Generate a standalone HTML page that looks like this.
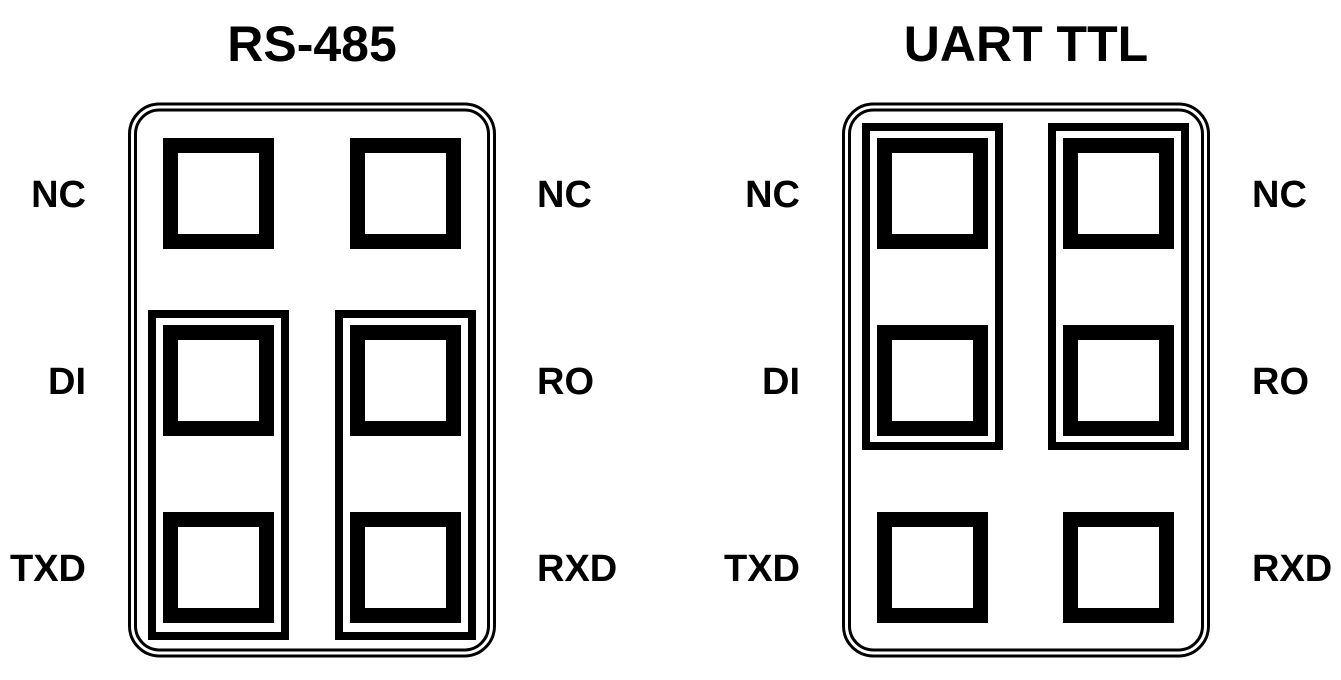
<!DOCTYPE html>
<html><head><style>
html,body{margin:0;padding:0;background:#fff;}
svg{display:block;}
text{font-family:"Liberation Sans",Arial,sans-serif;font-weight:bold;fill:#000;}
</style></head><body>
<svg width="1341" height="680" viewBox="0 0 1341 680" xmlns="http://www.w3.org/2000/svg">
<g fill="none" stroke="#000">
  <rect x="129.5" y="104" width="365" height="552" rx="30" stroke-width="3"/>
  <rect x="135.5" y="110" width="353" height="540" rx="24" stroke-width="3"/>
  <g stroke-width="15">
    <rect x="170.5" y="145.5" width="96" height="96"/>
    <rect x="357.5" y="145.5" width="96" height="96"/>
    <rect x="170.5" y="332.5" width="96" height="96"/>
    <rect x="357.5" y="332.5" width="96" height="96"/>
    <rect x="170.5" y="519.5" width="96" height="96"/>
    <rect x="357.5" y="519.5" width="96" height="96"/>
  </g>
  <g stroke-width="8">
    <rect x="152" y="314" width="133" height="322"/>
    <rect x="339" y="314" width="133" height="322"/>
  </g>
  <rect x="843.5" y="104" width="365" height="552" rx="30" stroke-width="3"/>
  <rect x="849.5" y="110" width="353" height="540" rx="24" stroke-width="3"/>
  <g stroke-width="15">
    <rect x="884.5" y="145.5" width="96" height="96"/>
    <rect x="1070.5" y="145.5" width="96" height="96"/>
    <rect x="884.5" y="332.5" width="96" height="96"/>
    <rect x="1070.5" y="332.5" width="96" height="96"/>
    <rect x="884.5" y="519.5" width="96" height="96"/>
    <rect x="1070.5" y="519.5" width="96" height="96"/>
  </g>
  <g stroke-width="8">
    <rect x="866" y="127" width="133" height="319"/>
    <rect x="1052" y="127" width="133" height="319"/>
  </g>
</g>
<text x="312" y="61" font-size="50" text-anchor="middle">RS-485</text>
<text x="1026" y="61" font-size="50" text-anchor="middle">UART TTL</text>
<g>
  <text x="86" y="207" text-anchor="end" font-size="38">NC</text>
  <text x="86" y="394" text-anchor="end" font-size="38">DI</text>
  <text x="86" y="581" text-anchor="end" font-size="38">TXD</text>
  <text x="537" y="207" font-size="38">NC</text>
  <text x="537" y="394" font-size="38">RO</text>
  <text x="537" y="581" font-size="38">RXD</text>
  <text x="800" y="207" text-anchor="end" font-size="38">NC</text>
  <text x="800" y="394" text-anchor="end" font-size="38">DI</text>
  <text x="800" y="581" text-anchor="end" font-size="38">TXD</text>
  <text x="1252" y="207" font-size="38">NC</text>
  <text x="1252" y="394" font-size="38">RO</text>
  <text x="1252" y="581" font-size="38">RXD</text>
</g>
</svg>
</body></html>
